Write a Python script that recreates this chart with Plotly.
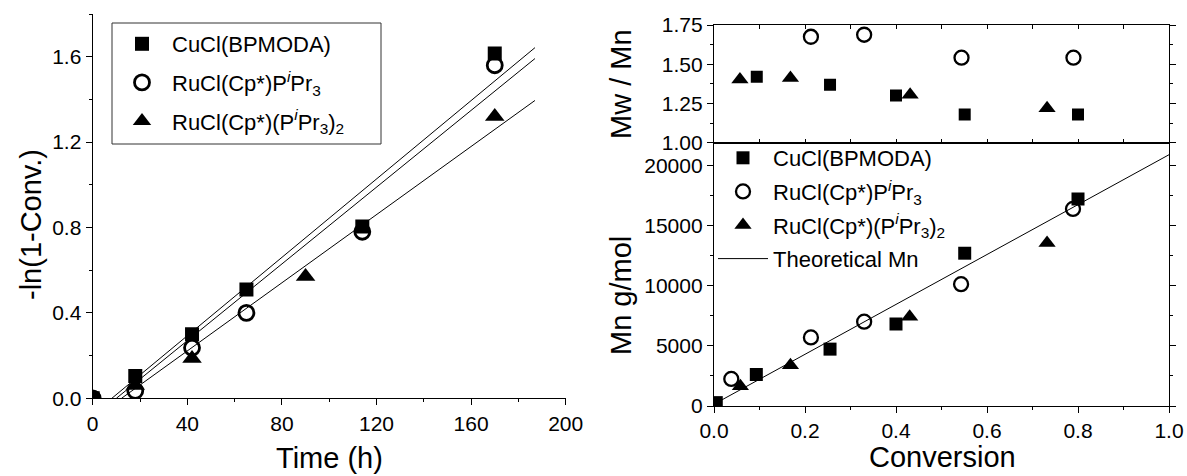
import plotly.graph_objects as go

W, H = 1187, 476
FONT = "Liberation Sans, Arial, sans-serif"

# ---------------- data: left panel (kinetics) ----------------
time_cucl = [0, 18, 42, 65, 114, 170]
lnconv_cucl = [0.0, 0.105, 0.30, 0.51, 0.805, 1.615]
time_ru1 = [0, 18, 42, 65, 114, 170]
lnconv_ru1 = [0.0, 0.035, 0.237, 0.40, 0.78, 1.56]
time_ru2 = [18, 42, 90, 170]
lnconv_ru2 = [0.06, 0.187, 0.57, 1.32]
fit_slope = [0.00918, 0.00899, 0.00798]
fit_intercept = [-0.0743, -0.0899, -0.0973]
fit_xend = 187

# ---------------- data: right panels ----------------
conv_cucl = [0.094, 0.255, 0.40, 0.551, 0.80]
pdi_cucl = [1.42, 1.37, 1.30, 1.18, 1.18]
conv_ru1 = [0.213, 0.33, 0.544, 0.79]
pdi_ru1 = [1.675, 1.688, 1.542, 1.542]
conv_ru2 = [0.057, 0.168, 0.431, 0.732]
pdi_ru2 = [1.403, 1.413, 1.305, 1.22]

mn_conv_cucl = [0.005, 0.093, 0.255, 0.40, 0.551, 0.80]
mn_cucl = [280, 2620, 4730, 6820, 12710, 17220]
mn_conv_ru1 = [0.038, 0.213, 0.33, 0.543, 0.789]
mn_ru1 = [2250, 5700, 7010, 10130, 16390]
mn_conv_ru2 = [0.058, 0.168, 0.43, 0.732]
mn_ru2 = [1640, 3390, 7430, 13550]
theo_conv = [0.0, 1.0]
theo_mn = [150, 20900]

names = ["CuCl(BPMODA)",
         "RuCl(Cp*)P<sup><i>i</i></sup>Pr<sub>3</sub>",
         "RuCl(Cp*)(P<sup><i>i</i></sup>Pr<sub>3</sub>)<sub>2</sub>"]

SQ = dict(symbol="square", color="black")
TR = dict(symbol="triangle-up", color="black")


def CI(w):
    return dict(symbol="circle-open", color="black", line=dict(width=w, color="black"))


fig = go.Figure()

# left panel markers
fig.add_trace(go.Scatter(x=time_cucl, y=lnconv_cucl, mode="markers", name=names[0],
                         marker=dict(size=14, **SQ), legend="legend", legendgroup="a",
                         xaxis="x", yaxis="y"))
fig.add_trace(go.Scatter(x=time_ru1, y=lnconv_ru1, mode="markers", name=names[1],
                         marker=dict(size=15, **CI(2.8)), legend="legend", legendgroup="b",
                         xaxis="x", yaxis="y"))
fig.add_trace(go.Scatter(x=time_ru2, y=lnconv_ru2, mode="markers", name=names[2],
                         marker=dict(size=17, **TR), legend="legend", legendgroup="c",
                         xaxis="x", yaxis="y"))
for a, b in zip(fit_slope, fit_intercept):
    x0 = -b / a
    fig.add_trace(go.Scatter(x=[x0, fit_xend], y=[a * x0 + b, a * fit_xend + b], mode="lines",
                             line=dict(color="black", width=1), showlegend=False,
                             xaxis="x", yaxis="y"))

# right top panel
fig.add_trace(go.Scatter(x=conv_cucl, y=pdi_cucl, mode="markers", showlegend=False,
                         marker=dict(size=12, **SQ), xaxis="x2", yaxis="y2"))
fig.add_trace(go.Scatter(x=conv_ru1, y=pdi_ru1, mode="markers", showlegend=False,
                         marker=dict(size=14, **CI(2.3)), xaxis="x2", yaxis="y2"))
fig.add_trace(go.Scatter(x=conv_ru2, y=pdi_ru2, mode="markers", showlegend=False,
                         marker=dict(size=15, **TR), xaxis="x2", yaxis="y2"))

# right bottom panel
fig.add_trace(go.Scatter(x=mn_conv_cucl, y=mn_cucl, mode="markers", name=names[0],
                         marker=dict(size=13, **SQ), legend="legend2", legendgroup="d",
                         xaxis="x3", yaxis="y3"))
fig.add_trace(go.Scatter(x=mn_conv_ru1, y=mn_ru1, mode="markers", name=names[1],
                         marker=dict(size=14, **CI(2.3)),
                         legend="legend2", legendgroup="e", xaxis="x3", yaxis="y3"))
fig.add_trace(go.Scatter(x=mn_conv_ru2, y=mn_ru2, mode="markers", name=names[2],
                         marker=dict(size=15, **TR), legend="legend2", legendgroup="f",
                         xaxis="x3", yaxis="y3"))
fig.add_trace(go.Scatter(x=theo_conv, y=theo_mn, mode="lines", name="Theoretical Mn",
                         line=dict(color="black", width=1), legend="legend2", legendgroup="g",
                         xaxis="x3", yaxis="y3"))

tickfont = dict(family=FONT, size=21, color="black")
common = dict(showline=True, linecolor="black", linewidth=1.3, showgrid=False, zeroline=False,
              ticks="outside", ticklen=6, tickwidth=1.3, tickcolor="black", tickfont=tickfont,
              automargin=False)

LX = [92.7 / W, 565.7 / W]
RX = [714 / W, 1169 / W]

fig.update_layout(
    width=W, height=H, autosize=False,
    margin=dict(l=0, r=0, t=0, b=0, pad=0, autoexpand=False),
    paper_bgcolor="white", plot_bgcolor="white",
    font=dict(family=FONT, color="black"),
    xaxis=dict(domain=LX, range=[0, 200], dtick=40, anchor="y",
               minor=dict(dtick=20, ticks="outside", ticklen=3, tickcolor="black"), **common),
    yaxis=dict(domain=[1 - 398.3 / H, 1 - 14 / H], range=[0, 1.8], dtick=0.4, tickformat=".1f",
               anchor="x", minor=dict(dtick=0.2, ticks="outside", ticklen=3, tickcolor="black"),
               **common),
    xaxis2=dict(domain=RX, range=[0, 1], dtick=0.2, anchor="y2", showline=True, linecolor="black",
                linewidth=1.3, mirror="ticks", ticks="inside", ticklen=4, tickcolor="black",
                showticklabels=False, showgrid=False, zeroline=False, automargin=False,
                minor=dict(dtick=0.1, ticks="inside", ticklen=4, tickcolor="black")),
    yaxis2=dict(domain=[1 - 142.7 / H, 1 - 25 / H], range=[1.0, 1.75], dtick=0.25, tickformat=".2f",
                anchor="x2", mirror="ticks",
                minor=dict(dtick=0.125, ticks="outside", ticklen=3, tickcolor="black"), **common),
    xaxis3=dict(domain=RX, range=[0, 1], dtick=0.2, tickformat=".1f", anchor="y3", mirror=True,
                minor=dict(dtick=0.1, ticks="outside", ticklen=3, tickcolor="black"), **common),
    yaxis3=dict(domain=[1 - 406 / H, 1 - 142.7 / H], range=[0, 21900], dtick=5000, tickformat="d",
                anchor="x3", mirror="ticks",
                minor=dict(dtick=2500, ticks="outside", ticklen=3, tickcolor="black"), **common),
    legend=dict(x=112 / W, y=1 - 23 / H, xanchor="left", yanchor="top",
                borderwidth=0, bgcolor="rgba(0,0,0,0)",
                font=dict(family=FONT, size=22, color="black"), tracegroupgap=7,
                itemsizing="trace", itemwidth=50),
    legend2=dict(x=713 / W, y=1 - 137 / H, xanchor="left", yanchor="top",
                 borderwidth=0, bgcolor="rgba(0,0,0,0)",
                 font=dict(family=FONT, size=22, color="black"), tracegroupgap=2,
                 itemsizing="trace", itemwidth=50),
    showlegend=True,
)

# frame of the left legend
fig.add_shape(type="rect", xref="paper", yref="paper", layer="below",
              x0=112 / W, x1=381 / W, y0=1 - 144 / H, y1=1 - 23 / H,
              line=dict(color="#333333", width=1), fillcolor="white")

title_font = dict(family=FONT, size=29, color="black")
annos = [
    dict(text="-ln(1-Conv.)", x=31 / W, y=1 - 225 / H, textangle=-90),
    dict(text="Time (h)", x=329 / W, y=1 - 458 / H, textangle=0),
    dict(text="Mw / Mn", x=621 / W, y=1 - 84 / H, textangle=-90),
    dict(text="Mn g/mol", x=621 / W, y=1 - 296 / H, textangle=-90),
    dict(text="Conversion", x=942 / W, y=1 - 457 / H, textangle=0),
]
for a in annos:
    fig.add_annotation(xref="paper", yref="paper", showarrow=False, font=title_font,
                       xanchor="center", yanchor="middle", **a)

fig.write_html(
    "out.html",
    config={"displayModeBar": False},
    post_script="document.documentElement.style.margin='0';document.body.style.margin='0';"
                "document.body.style.overflow='hidden';",
)
